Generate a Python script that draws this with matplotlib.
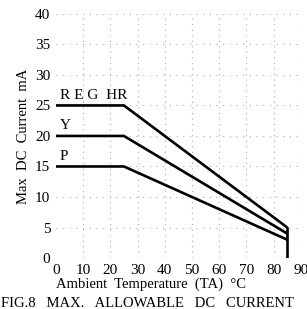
import matplotlib
matplotlib.use('Agg')
import matplotlib.pyplot as plt

# derating curves: temperature (C) vs max DC current (mA)
temp = [0, 25, 85]
reg_hr = [25, 25, 5]
yellow = [20, 20, 4]
pure = [15, 15, 3]
x_ticks = [0, 10, 20, 30, 40, 50, 60, 70, 80, 90]
y_ticks = [0, 5, 10, 15, 20, 25, 30, 35, 40]

plt.rcParams['font.family'] = ['Liberation Serif', 'DejaVu Serif']

fig = plt.figure(figsize=(3.07, 3.09), dpi=100)
ax = fig.add_axes([0.182, 0.165, 0.798, 0.79])

for v in x_ticks[1:]:
    ax.axvline(v, color='#aaaaaa', lw=0.8, ls=(0, (1, 4)), zorder=1)
for v in y_ticks[1:]:
    ax.axhline(v, color='#aaaaaa', lw=0.8, ls=(0, (1, 5)), zorder=1)

for series in (reg_hr, yellow, pure):
    ax.plot(temp, series, color='black', lw=1.9, solid_capstyle='butt', zorder=3)
ax.plot([temp[-1], temp[-1]], [0, reg_hr[-1]], color='black', lw=1.9, zorder=3)

ax.text(1.5, 25.6, 'R E G  HR', fontsize=11, ha='left', va='bottom')
ax.text(1.5, 20.6, 'Y', fontsize=11, ha='left', va='bottom')
ax.text(1.5, 15.6, 'P', fontsize=11, ha='left', va='bottom')

ax.set_xlim(0, 90)
ax.set_ylim(0, 40)
ax.set_xticks(x_ticks)
ax.set_yticks(y_ticks)
ax.tick_params(length=0, labelsize=11, pad=4)
for s in ax.spines.values():
    s.set_visible(False)

ax.set_xlabel('Ambient  Temperature  (TA)  \u00b0C', fontsize=10.5)
ax.xaxis.set_label_coords(0.39, -0.08)
ax.set_ylabel('Max  DC  Current  mA', fontsize=10.5, labelpad=4)

fig.text(0.003, 0.008, 'FIG.8   MAX.   ALLOWABLE   DC   CURRENT', fontsize=10.5,
         ha='left', va='baseline')

fig.savefig('out.png', dpi=100)
